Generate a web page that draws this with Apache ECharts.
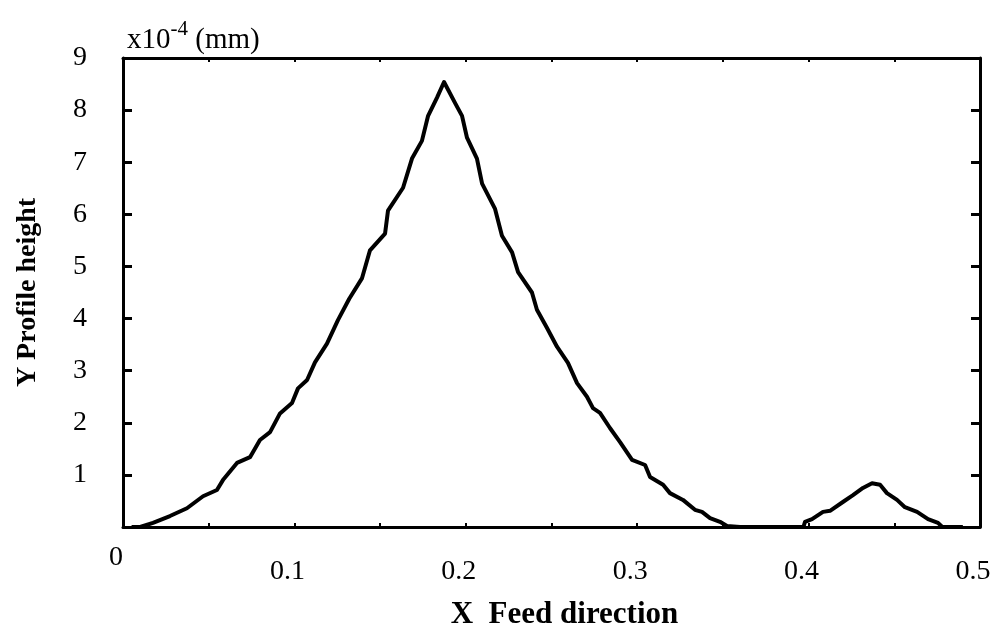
<!DOCTYPE html>
<html>
<head>
<meta charset="utf-8">
<script src="https://cdn.jsdelivr.net/npm/echarts@6/dist/echarts.min.js"></script>
<style>
  html, body { margin: 0; padding: 0; background: #fff; }
  #chart { width: 1000px; height: 638px; }
</style>
</head>
<body>
<div id="chart"></div>
<script>
// profile (x in mm, y in 1e-4 mm)
var feedX = [0.005, 0.01, 0.0175, 0.0274, 0.0373, 0.0467, 0.0548, 0.0583, 0.0665, 0.0741,
    0.0799, 0.0858, 0.0916, 0.0986, 0.1021, 0.1074, 0.112, 0.119, 0.1254, 0.132,
    0.1394, 0.1441, 0.1529, 0.1546, 0.1634, 0.1686, 0.1744, 0.178, 0.1832, 0.1873,
    0.1937, 0.1978, 0.2007, 0.2065, 0.2095, 0.217, 0.2211, 0.227, 0.2305, 0.2386,
    0.2415, 0.2474, 0.2532, 0.2596, 0.2649, 0.2707, 0.2742, 0.2783, 0.2841, 0.29,
    0.297, 0.3046, 0.3075, 0.3151, 0.3191, 0.3267, 0.3337, 0.3378, 0.3425, 0.3483,
    0.3524, 0.36, 0.397, 0.3979, 0.402, 0.4084, 0.4125, 0.42, 0.4259, 0.4317,
    0.437, 0.4417, 0.4457, 0.4516, 0.4562, 0.4633, 0.4697, 0.4755, 0.478, 0.49];
var profileY = [0, 0, 0.08, 0.21, 0.36, 0.59, 0.71, 0.9, 1.23, 1.34,
    1.67, 1.82, 2.18, 2.38, 2.66, 2.82, 3.16, 3.52, 3.97, 4.38,
    4.77, 5.31, 5.63, 6.07, 6.51, 7.07, 7.41, 7.89, 8.24, 8.54,
    8.14, 7.89, 7.47, 7.07, 6.59, 6.11, 5.59, 5.27, 4.89, 4.5,
    4.17, 3.82, 3.46, 3.15, 2.76, 2.5, 2.28, 2.19, 1.9, 1.63,
    1.29, 1.19, 0.96, 0.81, 0.65, 0.52, 0.33, 0.29, 0.17, 0.1,
    0.02, 0, 0, 0.1, 0.15, 0.29, 0.31, 0.48, 0.61, 0.75,
    0.84, 0.81, 0.65, 0.52, 0.38, 0.29, 0.15, 0.08, 0, 0];
var xTicks = ['0', '0.1', '0.2', '0.3', '0.4', '0.5'];
var yTicks = ['1', '2', '3', '4', '5', '6', '7', '8', '9'];

var serif = '"Liberation Serif", "DejaVu Serif", serif';
var lineData = feedX.map(function (x, i) { return [x, profileY[i]]; });

var myChart = echarts.init(document.getElementById('chart'));
var option = {
    backgroundColor: '#fff',
    animation: false,
    textStyle: {fontFamily: serif, color: '#000'},
    grid: {left: 123, right: 20, top: 58, bottom: 111, outerBoundsMode: 'none', containLabel: false},
    graphic: [{
        type: 'text', left: 127, top: 19,
        style: {
            text: '{a|x10}{s|-4}{a| (mm)}',
            rich: {
                a: {fontFamily: serif, fontSize: 29, fill: '#000', verticalAlign: 'bottom'},
                s: {fontFamily: serif, fontSize: 21, fill: '#000', verticalAlign: 'top', padding: [0, 0, 15, 0]}
            }
        }
    }],
    xAxis: [{
        type: 'value', min: 0, max: 0.5, interval: 0.05,
        name: 'X  Feed direction', nameLocation: 'middle', nameGap: 72, nameMoveOverlap: false,
        nameTextStyle: {fontFamily: serif, fontSize: 31, fontWeight: 'bold', color: '#000', padding: [0, 0, 0, 26]},
        axisLine: {onZero: false, lineStyle: {color: '#000', width: 3}},
        axisTick: {inside: true, length: 4, lineStyle: {color: '#000', width: 2}},
        splitLine: {show: false},
        axisLabel: {
            margin: 31, fontSize: 28, color: '#000', fontFamily: serif,
            formatter: function (v) {
                var k = Math.round(v * 20);
                if (k % 2) return '';
                var t = xTicks[k / 2];
                return k === 0 ? '{z|' + t + '}' : '{n|' + t + '}';
            },
            rich: {
                z: {fontSize: 28, fontFamily: serif, color: '#000', lineHeight: 0, padding: [0, 14, 0, 0]},
                n: {fontSize: 28, fontFamily: serif, color: '#000', padding: [0, 14, 0, 0]}
            }
        }
    }, {
        type: 'value', position: 'top', min: 0, max: 0.5, interval: 0.05,
        axisLine: {onZero: false, lineStyle: {color: '#000', width: 3}},
        axisTick: {inside: true, length: 4, lineStyle: {color: '#000', width: 2}},
        axisLabel: {show: false},
        splitLine: {show: false}
    }],
    yAxis: [{
        type: 'value', min: 0, max: 9, interval: 1,
        name: 'Y Profile height', nameLocation: 'middle', nameGap: 81, nameRotate: 90, nameMoveOverlap: false,
        nameTextStyle: {fontFamily: serif, fontSize: 28, fontWeight: 'bold', color: '#000'},
        axisLine: {onZero: false, lineStyle: {color: '#000', width: 3}},
        axisTick: {inside: true, length: 9, lineStyle: {color: '#000', width: 3}},
        splitLine: {show: false},
        axisLabel: {
            margin: 43, align: 'center', fontSize: 28, color: '#000', fontFamily: serif,
            formatter: function (v) { return v === 0 ? '' : yTicks[v - 1]; }
        }
    }, {
        type: 'value', position: 'right', min: 0, max: 9, interval: 1,
        axisLine: {show: true, onZero: false, lineStyle: {color: '#000', width: 3}},
        axisTick: {show: true, inside: true, length: 9, lineStyle: {color: '#000', width: 3}},
        axisLabel: {show: false},
        splitLine: {show: false}
    }],
    series: [{
        type: 'line',
        data: lineData,
        showSymbol: false,
        clip: false,
        lineStyle: {color: '#000', width: 4, join: 'round'}
    }]
};
myChart.setOption(option);
</script>
</body>
</html>
